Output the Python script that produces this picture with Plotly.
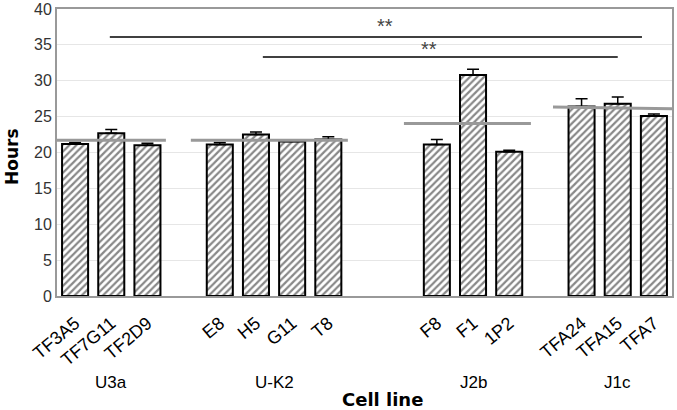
import plotly.graph_objects as go

# Data
clones = ["TF3A5", "TF7G11", "TF2D9", "", "E8", "H5", "G11", "T8", "", "",
          "F8", "F1", "1P2", "", "TFA24", "TFA15", "TFA7"]
hours = [21.2, 22.7, 21.0, None, 21.1, 22.5, 21.55, 21.8, None, None,
         21.1, 30.8, 20.1, None, 26.4, 26.8, 25.1]
errors = [0.2, 0.5, 0.3, 0, 0.3, 0.35, 0.1, 0.4, 0, 0,
          0.7, 0.8, 0.2, 0, 1.1, 0.95, 0.25]
groups = ["U3a", "U-K2", "J2b", "J1c"]
group_pos = [1, 5.5, 11, 15]
group_mean_x = [(-0.5, 2.51), (3.2, 7.54), (9.09, 12.6), (13.21, 16.5)]
group_mean_y = [(21.7, 21.7), (21.7, 21.7), (24.05, 24.05), (26.35, 26.1)]
sig_lines = [(0.96, 15.67, 36.1), (5.19, 15.0, 33.3)]
sig_labels = [(8.57, 37.7), (9.78, 34.4)]

xs = list(range(len(clones)))
bx = [x for x, h in zip(xs, hours) if h is not None]
by = [h for h in hours if h is not None]
be = [e for e, h in zip(errors, hours) if h is not None]

fig = go.Figure()
fig.add_trace(go.Bar(
    x=bx, y=by, width=0.72,
    marker=dict(color="white", line=dict(color="black", width=2),
                pattern=dict(shape="/", fgcolor="#111", bgcolor="white", size=5, solidity=0.45)),
    error_y=dict(type="data", array=be, arrayminus=[0]*len(be), symmetric=False,
                 color="black", thickness=1.5, width=6),
    showlegend=False,
))

for (x0, x1), (y0, y1) in zip(group_mean_x, group_mean_y):
    fig.add_trace(go.Scatter(x=[x0, x1], y=[y0, y1], mode="lines",
                             line=dict(color="#999999", width=3), showlegend=False))

for x0, x1, y in sig_lines:
    fig.add_trace(go.Scatter(x=[x0, x1], y=[y, y], mode="lines",
                             line=dict(color="black", width=1.5), showlegend=False))

for x, y in sig_labels:
    fig.add_annotation(x=x, y=y, text="**", showarrow=False,
                       font=dict(family="Liberation Sans", size=20, color="#444"))

for g, p in zip(groups, group_pos):
    fig.add_annotation(x=p, xref="x", y=-0.30, yref="paper", yanchor="middle",
                       text=g, showarrow=False,
                       font=dict(family="Liberation Sans", size=17, color="black"))

fig.add_annotation(x=0.53, xref="paper", y=-0.362, yref="paper", yanchor="middle",
                   text="<b>Cell line</b>", showarrow=False,
                   font=dict(family="DejaVu Sans", size=18, color="black"))
fig.add_annotation(x=-0.073, xref="paper", xanchor="center", y=0.485, yref="paper",
                   yanchor="middle", text="<b>Hours</b>", textangle=-90, showarrow=False,
                   font=dict(family="DejaVu Sans", size=17, color="black"))

fig.update_layout(
    width=677, height=410,
    margin=dict(l=57, r=5, t=9, b=114),
    plot_bgcolor="white", paper_bgcolor="white",
    hovermode=False,
    xaxis=dict(range=[-0.5, 16.5], tickmode="array", tickvals=xs, ticktext=clones,
               tickangle=-40, tickfont=dict(family="Liberation Sans", size=18, color="black"),
               ticklabelstandoff=8,
               showgrid=False, zeroline=False, showline=True, linecolor="#999", linewidth=1.5,
               mirror=True, ticks="", automargin=False),
    yaxis=dict(range=[0, 40], dtick=5, tickfont=dict(family="Liberation Sans", size=16, color="#333"),
               showgrid=True, gridcolor="#e6e6e6", gridwidth=1, zeroline=False,
               showline=True, linecolor="#999", linewidth=2, mirror=True, ticks="",
               automargin=False),
)

fig.write_html("out.html", config={"displayModeBar": False},
               post_script="document.body.style.margin='0';")
